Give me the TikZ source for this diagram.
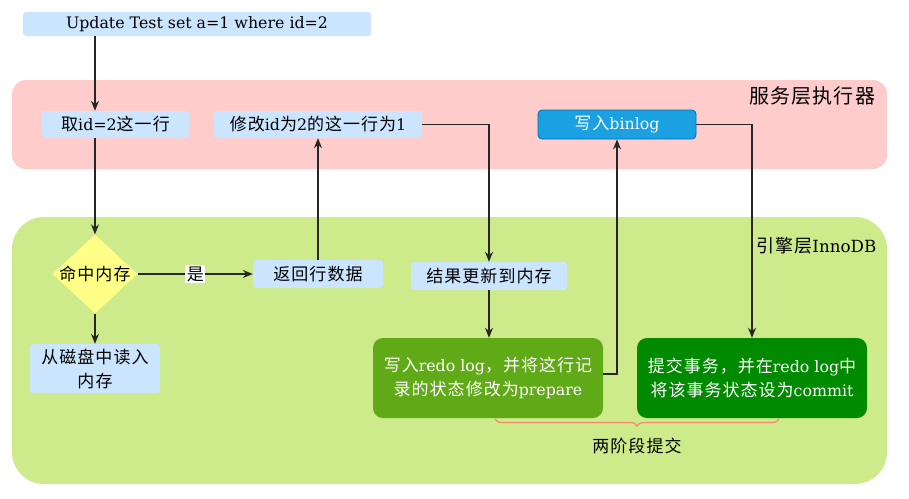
\documentclass[tikz,border=0pt]{standalone}
\usepackage{fontspec}
\setmainfont{DejaVu Serif}[Scale=0.93]
\newfontfamily\cjk{Noto Sans CJK SC}[LetterSpace=6]
\newcommand{\zh}[1]{{\cjk #1}}
\usetikzlibrary{arrows.meta,decorations.pathreplacing,shapes.geometric}
\definecolor{lblue}{HTML}{CCE5FF}
\definecolor{pinkbg}{HTML}{FFCCCC}
\definecolor{greenbg}{HTML}{CDEB8B}
\definecolor{yel}{HTML}{FFFF88}
\definecolor{binfill}{HTML}{1BA1E2}
\definecolor{binline}{HTML}{006EAF}
\definecolor{redofill}{HTML}{60A917}
\definecolor{commitfill}{HTML}{008A00}
\definecolor{bracecol}{HTML}{F5896E}
\begin{document}
\begin{tikzpicture}[x=1pt,y=-1pt,
  every node/.style={font=\fontsize{17}{24}\selectfont},
  lb/.style={fill=lblue, rounded corners=3pt, inner sep=0pt, align=center},
  darkbox/.style={rounded corners=10pt, inner sep=0pt, align=center, text=white, minimum width=230pt, minimum height=80pt},
  arr/.style={draw=black!85, line width=1.1pt, -{Stealth[length=10pt,width=8pt]}},
  ln/.style={draw=black!85, line width=1.1pt}
]
\useasboundingbox (0,0) rectangle (909,498);
% layers
\fill[pinkbg, rounded corners=14pt] (12,80) rectangle (887,169);
\fill[greenbg, rounded corners=32pt] (12,217) rectangle (887,484);
\node[anchor=center, font=\fontsize{20}{22}\selectfont] (svc) at (812,96) {\zh{服务层执行器}};
\node[anchor=west, font=\fontsize{18}{22}\selectfont] (eng) at (753,246) {\zh{引擎层}InnoDB};

% nodes
\node[lb, minimum width=348pt, minimum height=24pt] (upd) at (197,24) {Update Test set a=1 where id=2};
\node[lb, minimum width=147pt, minimum height=27pt] (qu) at (115.5,124.5) {\zh{取}id=2\zh{这一行}};
\node[lb, minimum width=208pt, minimum height=27pt] (mod) at (318,124.5) {\zh{修改}id\zh{为}2\zh{的这一行为}1};
\node[fill=binfill, draw=binline, line width=0.8pt, rounded corners=4pt, inner sep=0pt, text=white, minimum width=158pt, minimum height=29pt] (bin) at (617,124.5) {\zh{写入}binlog};

\node[diamond, fill=yel, minimum width=85pt, minimum height=79pt, inner sep=0pt] (dia) at (95,274) {};
\node (diat) at (dia.center) {\zh{命中内存}};
\node[lb, minimum width=130pt, minimum height=28pt] (ret) at (318,274) {\zh{返回行数据}};
\node[lb, minimum width=156pt, minimum height=28pt] (res) at (489,276) {\zh{结果更新到内存}};
\node[lb, minimum width=130pt, minimum height=49pt] (disk) at (95,368.5) {\zh{从磁盘中读入}\\\zh{内存}};

\node[darkbox, fill=redofill] (redo) at (488,378) {\zh{写入}redo log\zh{，并将这行记}\\\zh{录的状态修改为}prepare};
\node[darkbox, fill=commitfill] (commit) at (752,378) {\zh{提交事务，并在}redo log\zh{中}\\\zh{将该事务状态设为}commit};

% connectors
\draw[arr] (upd.south -| dia.north) -- (dia.north |- qu.north);
\draw[arr] (qu.south -| dia.north) -- (dia.north);
\draw[arr] (dia.east) -- node[fill=white, inner sep=1.5pt] (yes) {\zh{是}} (ret.west);
\draw[arr] (ret.north) -- (mod.south);
\draw[arr] (dia.south) -- (disk.north);
\draw[arr] (mod.east) -| (res.north);
\draw[arr] (res.south) -- (res.south |- redo.north);
\draw[arr] ([yshift=4pt]redo.east) -| (bin.south);
\draw[arr] (bin.east) -| (commit.north);

% brace
\coordinate (bl) at (495,419);
\coordinate (br) at (779,419);
\draw[bracecol, line width=1.2pt, decorate, decoration={brace, mirror, amplitude=7pt}] (bl) -- (br);
\node (two) at (637,446) {\zh{两阶段提交}};
\end{tikzpicture}
\end{document}
